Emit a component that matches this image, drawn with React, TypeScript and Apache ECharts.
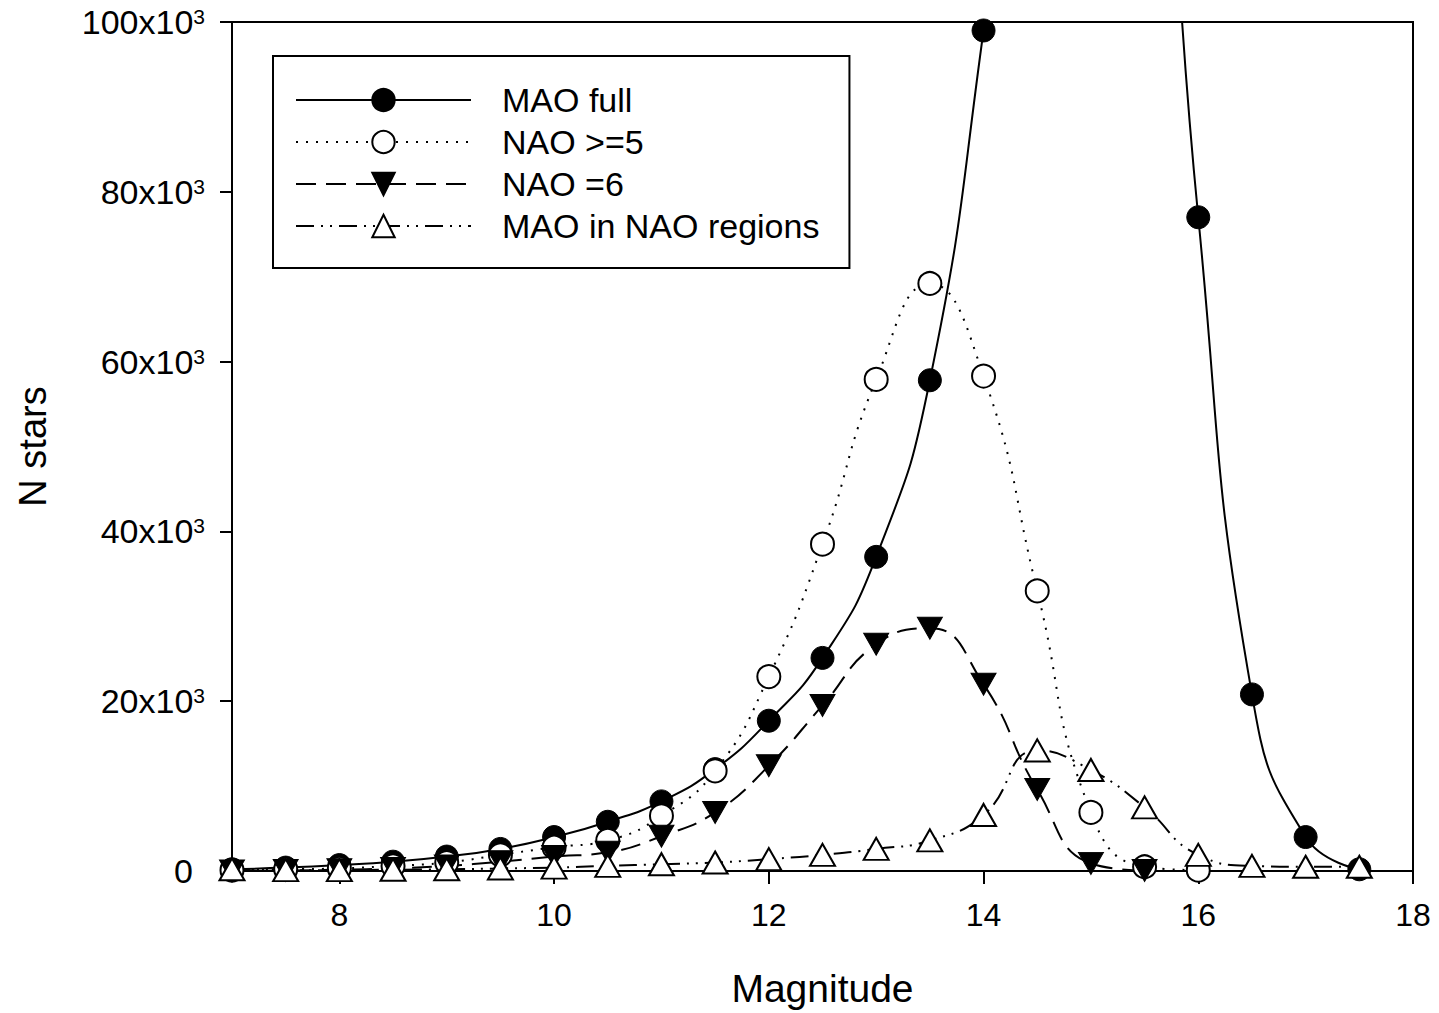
import React, { useEffect, useRef } from "react";
import * as echarts from "echarts";

const magnitudes = [7, 7.5, 8, 8.5, 9, 9.5, 10, 10.5, 11, 11.5, 12, 12.5, 13, 13.5, 14, 14.5, 15, 15.5, 16, 16.5, 17, 17.5];
const maoFull = [200, 400, 700, 1100, 1700, 2600, 4000, 5800, 8200, 12000, 17700, 25100, 37000, 57800, 99000, 150000, 175000, 150000, 77000, 20800, 4000, 200];
const nao5 = [100, 200, 300, 600, 1000, 1900, 2800, 3600, 6500, 11800, 22900, 38500, 57900, 69200, 58300, 33000, 6900, 500, 100];
const nao6 = [0, 50, 150, 300, 600, 1100, 1700, 2200, 4100, 6900, 12400, 19500, 26700, 28600, 22000, 9600, 900, 50];
const maoInNao = [200, 100, 100, 150, 200, 300, 400, 600, 800, 1000, 1400, 1900, 2600, 3600, 6600, 14200, 11900, 7500, 1900, 600, 500, 500];
const seriesNames = ["MAO full", "NAO >=5", "NAO =6", "MAO in NAO regions"];
const xTicks = [8, 10, 12, 14, 16, 18];

const FONT = "'Liberation Sans', Arial, Helvetica, sans-serif";

function pairs(vals: number[]) {
  return vals.map((v, i) => [magnitudes[i], v]);
}

export default function App() {
  const ref = useRef<HTMLDivElement>(null);
  useEffect(() => {
    if (!ref.current) return;
    const chart = echarts.init(ref.current, undefined, { renderer: "svg" });
    const common = {
      type: "line",
      smooth: 0.5,
      symbolSize: 23,
      showAllSymbol: true,
      clip: true,
    };
    chart.setOption({
      animation: false,
      backgroundColor: "#fff",
      textStyle: { fontFamily: FONT, color: "#000" },
      grid: {
        left: 232,
        right: 26,
        top: 22,
        bottom: 139,
        show: true,
        borderColor: "#000",
        borderWidth: 2,
        backgroundColor: "transparent",
      },
      legend: {
        left: 273,
        top: 56,
        orient: "vertical",
        data: seriesNames,
        selectedMode: false,
        itemWidth: 175,
        itemHeight: 28,
        itemGap: 8,
        padding: [27, 30, 25, 22],
        borderColor: "#000",
        borderWidth: 2,
        backgroundColor: "#fff",
        textStyle: { fontFamily: FONT, fontSize: 34, color: "#000", lineHeight: 34, padding: [0, 0, 0, 26] },
      },
      xAxis: {
        type: "value",
        min: 7,
        max: 18,
        interval: 1,
        name: "Magnitude",
        nameLocation: "middle",
        nameGap: 98,
        nameTextStyle: { fontFamily: FONT, fontSize: 39, color: "#000" },
        axisLine: { show: true, onZero: false, lineStyle: { color: "#000", width: 2 } },
        axisTick: { show: true, inside: false, length: 13, lineStyle: { color: "#000", width: 2 }, customValues: xTicks },
        axisLabel: { fontFamily: FONT, fontSize: 32, color: "#000", margin: 28, customValues: xTicks },
        splitLine: { show: false },
      },
      yAxis: {
        type: "value",
        min: 0,
        max: 100000,
        interval: 20000,
        name: "N stars",
        nameLocation: "middle",
        nameGap: 180,
        nameTextStyle: { fontFamily: FONT, fontSize: 38, color: "#000" },
        axisLine: { show: true, lineStyle: { color: "#000", width: 2 } },
        axisTick: { show: true, inside: false, length: 12, lineStyle: { color: "#000", width: 2 } },
        axisLabel: {
          margin: 27,
          formatter: (v: number) => (v === 0 ? "{a|0}{s| }" : `{a|${v / 1000}x10}{b|3}`),
          rich: {
            a: { fontFamily: FONT, fontSize: 34, color: "#000", lineHeight: 34 },
            b: { fontFamily: FONT, fontSize: 21, color: "#000", lineHeight: 21, verticalAlign: "top", padding: [1, 0, 0, 0] },
            s: { fontFamily: FONT, fontSize: 21, color: "#000", width: 12 },
          },
        },
        splitLine: { show: false },
      },
      series: [
        {
          ...common,
          name: seriesNames[0],
          data: pairs(maoFull),
          symbol: "circle",
          lineStyle: { color: "#000", width: 2, type: "solid" },
          itemStyle: { color: "#000", borderColor: "#000", borderWidth: 1 },
        },
        {
          ...common,
          name: seriesNames[1],
          data: pairs(nao5),
          symbol: "circle",
          lineStyle: { color: "#000", width: 2, type: [2, 8] },
          itemStyle: { color: "#fff", borderColor: "#000", borderWidth: 2 },
        },
        {
          ...common,
          name: seriesNames[2],
          data: pairs(nao6),
          symbol: "path://M0,0 L24,0 L12,21 Z",
          symbolSize: [25, 22],
          lineStyle: { color: "#000", width: 2, type: [20, 10] },
          itemStyle: { color: "#000", borderColor: "#000", borderWidth: 1 },
        },
        {
          ...common,
          name: seriesNames[3],
          data: pairs(maoInNao),
          symbol: "triangle",
          symbolSize: [25, 22],
          lineStyle: { color: "#000", width: 2, type: [18, 7, 2, 7, 2, 7] },
          itemStyle: { color: "#fff", borderColor: "#000", borderWidth: 2 },
        },
      ],
    });
    return () => chart.dispose();
  }, []);
  return <div ref={ref} style={{ width: 1439, height: 1013, position: "absolute", left: 0, top: 0 }} />;
}
